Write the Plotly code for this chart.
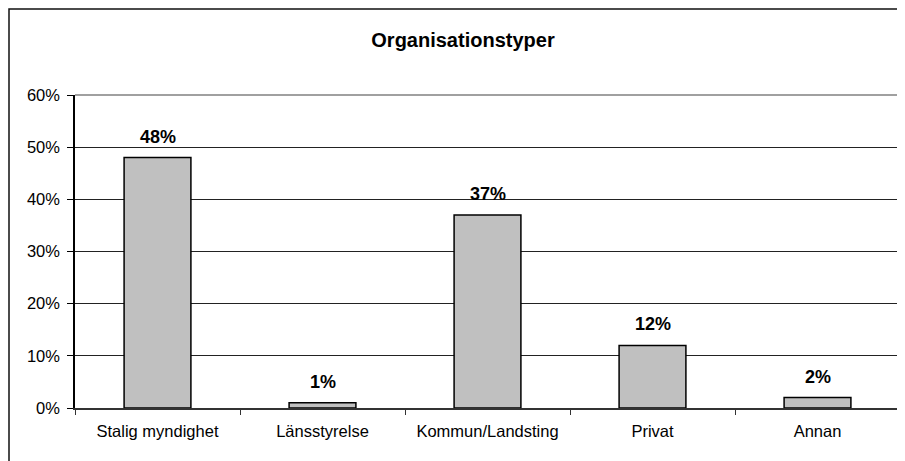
import plotly.graph_objects as go

# Organisationstyper - andel per typ (%)
categories = ["Stalig myndighet", "Länsstyrelse", "Kommun/Landsting", "Privat", "Annan"]
values = [48, 1, 37, 12, 2]
labels = [f"{v}%" for v in values]
y_ticks = [0, 10, 20, 30, 40, 50, 60]
y_ticktext = [f"{t}%" for t in y_ticks]

# page body has an 8px margin, so the figure is a bit smaller than the window
W, H = 897, 453
L, R, T, B = 67, 5, 87, 53
pw, ph = W - L - R, H - T - B

font = "Arial, Liberation Sans, sans-serif"

fig = go.Figure()
fig.add_trace(go.Bar(
    x=categories,
    y=values,
    marker=dict(color="#c0c0c0", line=dict(color="black", width=1.5)),
    width=0.405,
    hoverinfo="x+y",
))

# value labels above the bars
for c, v, t in zip(categories, values, labels):
    fig.add_annotation(x=c, y=v, text=f"<b>{t}</b>", showarrow=False,
                       yanchor="bottom", yshift=9,
                       font=dict(family=font, size=18, color="black"))

# plot area border (top/right, grey) and outer chart frame
fig.add_shape(type="line", xref="paper", yref="paper", x0=0, x1=1, y0=1, y1=1,
              line=dict(color="#808080", width=1.5))
fig.add_shape(type="line", xref="paper", yref="paper", x0=1, x1=1, y0=0, y1=1,
              line=dict(color="#808080", width=1.5))
fig.add_shape(type="rect", xref="paper", yref="paper",
              x0=(1 - L) / pw, x1=(W + 20 - L) / pw,
              y0=(H - B - (H + 20)) / ph, y1=(H - B - 1) / ph,
              line=dict(color="#111111", width=1.5), layer="above")

fig.update_layout(
    width=W, height=H,
    margin=dict(l=L, r=R, t=T, b=B),
    paper_bgcolor="white", plot_bgcolor="white",
    showlegend=False,
    font=dict(family=font, size=16, color="black"),
    title=dict(text="<b>Organisationstyper</b>", x=(455 - L) / pw, xref="paper",
               xanchor="center", y=1 - 32 / H, yanchor="middle",
               font=dict(family=font, size=20, color="black")),
    xaxis=dict(
        showline=True, linecolor="#333333", linewidth=1.5,
        ticks="outside", ticklen=5, tickcolor="#333333", tickwidth=1,
        tickson="boundaries", showgrid=False,
        ticklabelstandoff=7,
        tickfont=dict(family=font, size=16.5, color="black"),
    ),
    yaxis=dict(
        range=[0, 60], tickvals=y_ticks, ticktext=y_ticktext,
        showline=True, linecolor="black", linewidth=1.5,
        ticks="outside", ticklen=6, tickcolor="black", tickwidth=1,
        ticklabelstandoff=4,
        showgrid=True, gridcolor="#222222", gridwidth=1,
        zeroline=False,
        tickfont=dict(family=font, size=16.5, color="black"),
    ),
)

fig.write_html("out.html")
